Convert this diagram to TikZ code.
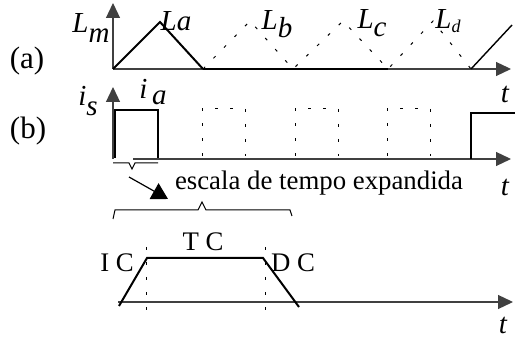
\documentclass[tikz,border=0pt]{standalone}
\usepackage{fontspec}
\setmainfont{Liberation Serif}
\usetikzlibrary{arrows.meta}
\newcommand{\lowr}[2][0.55ex]{\raisebox{-#1}{#2}}

\begin{document}
\begin{tikzpicture}[
  x=0.5pt, y=-0.5pt,
  font=\fontsize{13.4}{16}\selectfont,
  axis/.style={black!75, line width=0.6pt, -{Triangle[length=7.5pt,width=7pt]}},
  wave/.style={line width=1pt},
  ghost/.style={line width=0.5pt, dash pattern=on 1.5pt off 6pt},
  tag/.style={font=\fontsize{15.5}{18}\selectfont},
  lbl/.style={inner sep=0pt, font=\fontsize{14.5}{17}\selectfont\itshape}]
  \useasboundingbox (0,0) rectangle (517,340);
  % (a) inductances
  \coordinate (oa) at (113,69);
  \coordinate (ea) at (511,69);
  \draw[axis] (oa) -- (113,3);
  \draw[axis] (oa) -- (ea);
  \draw[wave] (oa) -- (160,22) -- (203,69);
  \draw[line width=1.3pt] (203,69) -- (388,69);
  \draw[ghost] (203,69) -- (250,21) -- (293,69) -- (343,21) -- (388,69)
    -- (433,21) -- (471,69);
  \draw[line width=0.7pt] (471,69) -- (512,25);
  \node[tag] (pa) at (27,61) {(a)};
  \node[lbl] (lm) at (91,28) {L\lowr[0.8ex]{m}};
  \node[lbl] (la) at (176,21) {La};
  \node[lbl] (lb) at (277,24) {L\lowr{b}};
  \node[lbl] (lc) at (372,23) {L\lowr{c}};
  \node[lbl] (ld) at (448,21) {L\lowr[0.3ex]{\small d}};
  \node[lbl] (ta) at (505,94) {t};
  % (b) current
  \coordinate (ob) at (113,159);
  \draw[axis] (ob) -- (113,87);
  \draw[axis] (133,159) -- (511,159);
  \draw[wave] (115,158) |- (158,110) -- (158,158);
  \foreach \x in {202,295,387}
    \draw[ghost] (\x,156) |- (\x+43,109) -- (\x+43,156);
  \draw[line width=0.8pt] (471,159) |- (515,113);
  \node[tag] (pb) at (28,131) {(b)};
  \node[lbl] (is) at (88,101) {i\lowr[0.7ex]{s}};
  \node[lbl] (ia) at (153,92) {i\,\lowr[0.45ex]{a}};
  \node[lbl] (tb) at (505,187) {t};
  \draw[line width=0.5pt] (113,163) -- (129,163) -- (132,169) -- (135,163) -- (158,163);
  \coordinate (notch) at (129,177);
  \coordinate (head) at (168,199);
  \node (exp) at (319,183) {escala de tempo expandida};
  \draw[line width=0.6pt, -{Triangle[length=8pt,width=9pt]}] (notch) -- (head);
  \draw[line width=0.5pt] (113,219) -- (115,210) -- (198,210) -- (202,202)
    -- (206,210) -- (290,210) -- (292,216);
  % (c) expanded pulse
  \coordinate (oc) at (118,302);
  \draw[axis] (oc) -- (513,302);
  \draw[wave] (119,306) -- (147,258) -- (263,258) -- (299,307);
  \foreach \x in {146,265}
    \draw[ghost] (\x,247) -- (\x,311);
  \node (ic) at (117,263) {I C};
  \node (tc) at (203,242) {T C};
  \node (dc) at (293,263) {D C};
  \node[lbl] (tc2) at (503,325) {t};
\end{tikzpicture}
\end{document}
